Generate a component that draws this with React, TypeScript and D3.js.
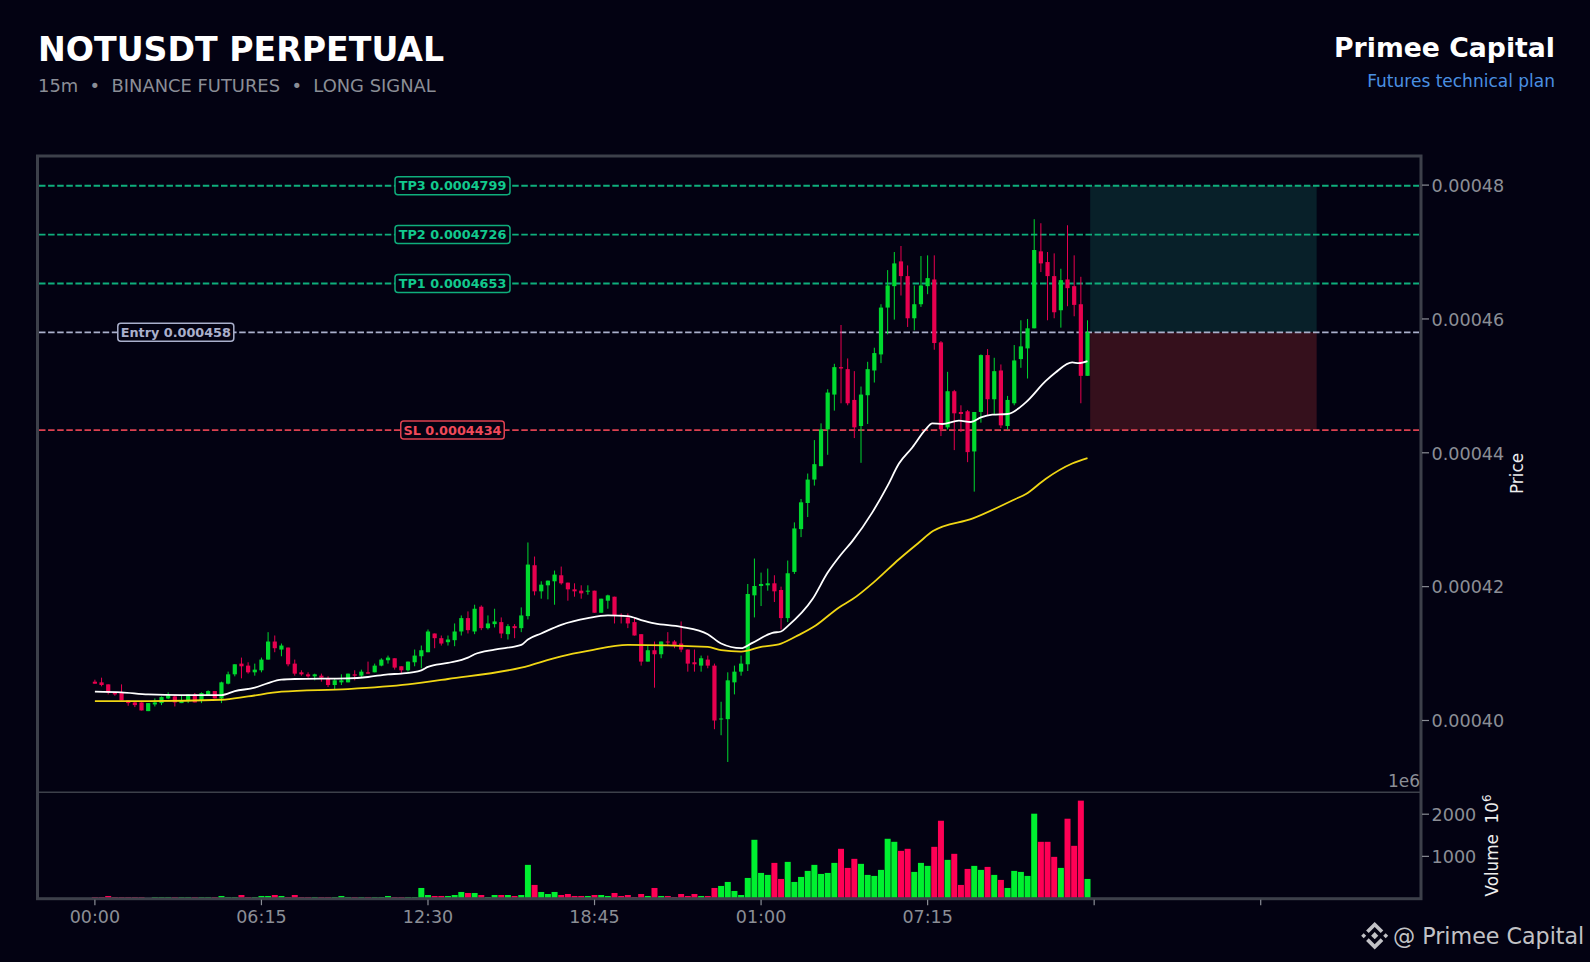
import React from "react";
import * as d3 from "d3";

// Prices in units of 1e-7 USDT (4058 = 0.0004058); 15m candles
const opens = [
4058,4057,4054,4042,4042,4030,4027,4027,4014,4024,
4026,4033,4036,4026,4029,4039,4030,4038,4044,4033,
4055,4069,4085,4082,4072,4075,4091,4118,4106,4109,
4085,4072,4069,4066,4067,4063,4053,4057,4057,4069,
4067,4072,4072,4082,4090,4093,4081,4075,4087,4096,
4102,4130,4123,4117,4120,4133,4153,4133,4170,4138,
4144,4147,4129,4141,4138,4156,4232,4193,4202,4208,
4217,4206,4196,4194,4193,4194,4161,4179,4185,4158,
4154,4147,4129,4088,4105,4099,4118,4118,4115,4106,
4087,4082,4091,4082,4002,4002,4057,4073,4084,4187,
4201,4202,4205,4195,4153,4222,4286,4325,4360,4380,
4435,4487,4528,4525,4479,4440,4486,4523,4547,4617,
4649,4686,4664,4601,4622,4649,4659,4565,4438,4492,
4461,4462,4402,4461,4546,4480,4523,4440,4474,4540,
4556,4586,4701,4685,4664,4613,4659,4649,4622,4515];

const closes = [
4055,4053,4042,4039,4030,4026,4023,4015,4026,4027,
4035,4038,4027,4030,4039,4027,4041,4044,4033,4057,
4069,4084,4081,4072,4076,4091,4118,4108,4112,4084,
4070,4069,4066,4069,4064,4053,4060,4060,4070,4067,
4073,4070,4082,4091,4094,4079,4075,4088,4097,4105,
4133,4123,4115,4121,4133,4153,4135,4167,4138,4145,
4148,4130,4141,4138,4157,4233,4193,4203,4209,4218,
4205,4196,4193,4190,4194,4161,4182,4187,4157,4157,
4145,4127,4088,4105,4099,4118,4117,4112,4106,4085,
4084,4093,4082,4000,4003,4060,4073,4085,4189,4201,
4204,4205,4193,4153,4220,4287,4326,4360,4383,4435,
4490,4528,4526,4474,4438,4487,4525,4549,4617,4650,
4683,4664,4601,4622,4650,4661,4564,4435,4492,4459,
4458,4401,4461,4546,4480,4522,4441,4479,4538,4559,
4586,4703,4683,4664,4610,4658,4646,4621,4515,4580];

const highs = [
4061,4064,4054,4042,4054,4030,4029,4027,4026,4033,
4036,4042,4038,4038,4039,4041,4042,4045,4044,4058,
4073,4084,4094,4087,4085,4094,4132,4127,4115,4109,
4091,4075,4072,4070,4070,4066,4063,4069,4070,4075,
4076,4088,4085,4093,4097,4093,4081,4088,4106,4112,
4136,4130,4127,4127,4145,4157,4163,4173,4172,4157,
4167,4154,4144,4144,4169,4266,4245,4208,4209,4224,
4230,4206,4205,4202,4202,4194,4182,4188,4185,4160,
4160,4154,4129,4112,4118,4118,4132,4120,4148,4106,
4106,4097,4097,4085,4028,4072,4082,4097,4204,4242,
4221,4227,4217,4200,4239,4296,4331,4369,4419,4444,
4495,4533,4591,4541,4522,4499,4536,4557,4622,4673,
4700,4709,4680,4650,4694,4695,4695,4567,4521,4494,
4471,4464,4461,4547,4555,4542,4532,4485,4561,4598,
4600,4749,4743,4700,4698,4675,4740,4695,4663,4598];

const lows = [
4055,4051,4039,4037,4030,4022,4020,4015,4014,4021,
4023,4032,4021,4026,4026,4027,4026,4038,4033,4026,
4054,4066,4063,4070,4067,4072,4091,4102,4096,4081,
4067,4067,4064,4060,4058,4050,4047,4053,4057,4060,
4064,4070,4072,4081,4085,4076,4070,4073,4081,4078,
4102,4108,4112,4112,4111,4127,4130,4129,4135,4136,
4139,4123,4121,4123,4132,4151,4187,4182,4181,4173,
4203,4179,4185,4182,4188,4161,4161,4167,4145,4145,
4138,4127,4082,4088,4049,4093,4111,4108,4102,4073,
4073,4073,4078,3987,3978,3938,4039,4067,4074,4154,
4171,4194,4177,4136,4147,4219,4274,4304,4351,4380,
4397,4463,4474,4471,4422,4385,4443,4505,4534,4577,
4599,4635,4588,4583,4618,4637,4554,4425,4435,4404,
4431,4386,4342,4445,4455,4458,4437,4435,4471,4527,
4511,4586,4670,4598,4601,4587,4619,4604,4474,4515];

// Volume in millions
const volumes = [
36,36,60,36,36,36,36,36,10,36,
36,36,36,36,36,36,36,36,36,60,
36,36,83,36,36,60,60,83,60,36,
83,36,36,36,36,36,36,60,36,36,
36,36,36,36,60,36,36,36,36,250,
83,60,60,60,83,155,131,131,83,36,
83,83,83,60,83,798,322,155,107,155,
83,107,60,60,60,83,83,60,131,60,
83,36,107,60,250,60,60,36,107,60,
107,60,60,250,298,393,179,83,488,1393,
607,560,845,464,869,393,512,655,798,583,
607,845,1179,726,941,822,560,536,679,1417,
1345,1131,1179,631,845,774,1226,1845,917,1060,
322,702,774,679,750,560,441,250,655,631,
536,2012,1345,1345,988,726,1893,1250,2322,464];

const fastEma: [number, number][] = [
[0,4043],[4,4042],[8,4039],[13,4038],[19,4038],[21,4044],[24,4049],[26,4056],[28,4061],[30,4062],
[38,4063],[41,4065],[44,4069],[46,4070],[49,4075],[50,4080],[53,4086],[56,4094],[57,4099],[60,4106],
[64,4113],[65,4121],[67,4130],[70,4143],[74,4153],[77,4157],[80,4156],[82,4150],[84,4145],[88,4140],
[92,4129],[94,4115],[97,4108],[98.7,4116],[101.7,4131],[103,4133],[104,4141],[107.7,4181],[110,4221],[112,4248],
[113.7,4268],[116.7,4311],[119,4351],[120.7,4384],[122.7,4408],[124.7,4435],[125.7,4444],[127.2,4443],[129.7,4448],[131.5,4446],
[133,4453],[134.7,4457],[137,4458],[139.7,4475],[142.7,4507],[144.2,4520],[146.7,4535],[147.7,4534],[149,4537]];

const slowEma: [number, number][] = [
[0,4029],[8,4029],[19,4031],[23,4036],[28,4043],[38,4047],[47,4054],[53,4062],[64,4079],[70,4096],
[74,4104],[80,4113],[92,4110],[94,4105],[97,4103],[100,4110],[103,4115],[105.7,4128],[108.2,4142],[111.7,4169],
[113.7,4181],[117.2,4209],[120.7,4241],[123.7,4266],[125.8,4283],[131.8,4302],[138.2,4331],[139.7,4338],[142.7,4361],[146.7,4384],[149,4392]];

const levelRows = [
  { label: "TP3 0.0004799", price: 4799, color: "#0fae7c", text: "#12c98d", at: 54 },
  { label: "TP2 0.0004726", price: 4726, color: "#0fae7c", text: "#12c98d", at: 54 },
  { label: "TP1 0.0004653", price: 4653, color: "#0fae7c", text: "#12c98d", at: 54 },
  { label: "Entry 0.000458", price: 4580, color: "#aab0cc", text: "#aab0cc", at: 12 },
  { label: "SL 0.0004434", price: 4434, color: "#dc4150", text: "#f04a5a", at: 54 },
];
const priceTicks = [4000, 4200, 4400, 4600, 4800];
const priceTickLabels = ["0.00040", "0.00042", "0.00044", "0.00046", "0.00048"];
const volumeTicks = [1000, 2000];
const timeTicks = [0, 25, 50, 75, 100, 125, 150, 175];
const timeLabels = ["00:00", "06:15", "12:30", "18:45", "01:00", "07:15", "", ""];

const BG = "#030212";
const FONT = "'DejaVu Sans', sans-serif";
const UP = "#00d92f", DOWN = "#e8004f", VUP = "#00f030", VDOWN = "#ff0055";
const SPINE = "#3d404a", TICK = "#8b8e96";

const L = 37.5, R = 1421, T = 156, B = 898.7;
const x = d3.scaleLinear().domain([-8.6, 199]).range([37.6, 1420.6]);
const y = d3.scaleLinear().domain([4000, 4800]).range([720.5, 185.1]);
const v = d3.scaleLinear().domain([0, 2000]).range([898.5, 814.2]);

const ln = d3.line<[number, number]>().x(d => x(d[0])).y(d => y(d[1])).curve(d3.curveMonotoneX);

export default function App() {
  const bw = 4.2, vw = 6;
  return (
    <svg width={1590} height={962} style={{ position: "fixed", left: 0, top: 0, display: "block", background: BG }} fontFamily={FONT}>
      <rect width={1590} height={962} fill={BG} />
      <text x={38} y={61} fill="#fff" fontSize={33.2} fontWeight="bold">NOTUSDT PERPETUAL</text>
      <text x={38} y={92} fill={TICK} fontSize={17.9} xmlSpace="preserve">15m  •  BINANCE FUTURES  •  LONG SIGNAL</text>
      <text x={1555} y={57} fill="#fff" fontSize={26.7} fontWeight="bold" textAnchor="end">Primee Capital</text>
      <text x={1555} y={86.5} fill="#4a90e2" fontSize={17} textAnchor="end">Futures technical plan</text>

      {/* trade zones */}
      <rect x={x(149.4)} y={y(4799)} width={x(183.4) - x(149.4)} height={y(4580) - y(4799)} fill="#082029" />
      <rect x={x(149.4)} y={y(4580)} width={x(183.4) - x(149.4)} height={y(4434) - y(4580)} fill="#35101c" />

      {/* levels */}
      {levelRows.map(l => (
        <line key={l.label} x1={39} x2={R - 2} y1={y(l.price)} y2={y(l.price)} stroke={l.color} strokeWidth={1.8} strokeDasharray="6.5 2.6" />
      ))}

      {/* candles */}
      {opens.map((o, i) => {
        const c = closes[i];
        const col = c >= o ? UP : DOWN;
        const top = y(Math.max(o, c)), bot = y(Math.min(o, c));
        return (
          <g key={i}>
            <line x1={x(i)} x2={x(i)} y1={y(highs[i])} y2={y(lows[i])} stroke={col} strokeWidth={1} />
            <rect x={x(i) - bw / 2} y={top} width={bw} height={Math.max(bot - top, 1)} fill={col} />
          </g>
        );
      })}

      {/* EMA lines */}
      <path d={ln(slowEma) ?? ""} fill="none" stroke="#f0d614" strokeWidth={1.8} />
      <path d={ln(fastEma) ?? ""} fill="none" stroke="#ffffff" strokeWidth={1.8} />

      {/* level labels */}
      {levelRows.map(l => {
        const cx = l.at === 12 ? 175.8 : 452.5;
        const w = l.label.startsWith("SL") ? 103.5 : l.label.startsWith("Entry") ? 116 : 115;
        return (
          <g key={l.label}>
            <rect x={cx - w / 2} y={y(l.price) - 9} width={w} height={18} rx={3} fill={BG} stroke={l.color} strokeWidth={1.5} />
            <text x={cx} y={y(l.price) + 4.5} fill={l.text} fontSize={12.8} fontWeight="bold" textAnchor="middle">{l.label}</text>
          </g>
        );
      })}

      {/* volume */}
      {volumes.map((d, i) => (
        <rect key={i} x={x(i) - vw / 2} y={v(d)} width={vw} height={v(0) - v(d)} fill={closes[i] >= opens[i] ? VUP : VDOWN} />
      ))}

      {/* frame */}
      <line x1={L} x2={R} y1={792.3} y2={792.3} stroke={SPINE} strokeWidth={1.5} />
      <rect x={L} y={T} width={R - L} height={B - T} fill="none" stroke={SPINE} strokeWidth={3} />

      {/* y ticks */}
      {priceTicks.map((t, i) => (
        <g key={t}>
          <line x1={R + 1} x2={R + 8} y1={y(t)} y2={y(t)} stroke={TICK} strokeWidth={1.2} />
          <text x={1431.5} y={y(t) + 6.7} fill={TICK} fontSize={17.6}>{priceTickLabels[i]}</text>
        </g>
      ))}
      {volumeTicks.map(t => (
        <g key={t}>
          <line x1={R + 1} x2={R + 8} y1={v(t)} y2={v(t)} stroke={TICK} strokeWidth={1.2} />
          <text x={1431.5} y={v(t) + 6.5} fill={TICK} fontSize={17.6}>{t}</text>
        </g>
      ))}
      <text x={R - 1} y={787} fill={TICK} fontSize={17} textAnchor="end">1e6</text>

      {/* x ticks */}
      {timeTicks.map((t, i) => (
        <g key={t}>
          <line x1={x(t)} x2={x(t)} y1={B + 1} y2={B + 6.5} stroke={TICK} strokeWidth={1.2} />
          {timeLabels[i] && <text x={x(t)} y={922.5} fill={TICK} fontSize={17.5} textAnchor="middle">{timeLabels[i]}</text>}
        </g>
      ))}

      {/* axis titles */}
      <text transform="translate(1523,473.5) rotate(-90)" fill="#eeeeee" fontSize={16.8} textAnchor="middle">Price</text>
      <text transform="translate(1498,896.5) rotate(-90)" fill="#eeeeee" fontSize={16.8} xmlSpace="preserve">
        Volume  10<tspan fontSize={12} dy={-7}>6</tspan>
      </text>

      {/* watermark */}
      <g transform="translate(1374.7,935.7)" fill="#c2c2c6">
        <path d="M0,-3.6 L3.6,0 L0,3.6 L-3.6,0 Z" />
        <path d="M-11,-2.5 L-8.5,0 L-11,2.5 L-13.5,0 Z" />
        <path d="M11,-2.5 L13.5,0 L11,2.5 L8.5,0 Z" />
        <path d="M0,-13.8 L8.6,-5.2 L6,-2.6 L0,-8.6 L-6,-2.6 L-8.6,-5.2 Z" />
        <path d="M0,13.8 L8.6,5.2 L6,2.6 L0,8.6 L-6,2.6 L-8.6,5.2 Z" />
      </g>
      <text x={1393} y={944} fill="#c2c2c6" fontSize={22.2}>@ Primee Capital</text>
    </svg>
  );
}
